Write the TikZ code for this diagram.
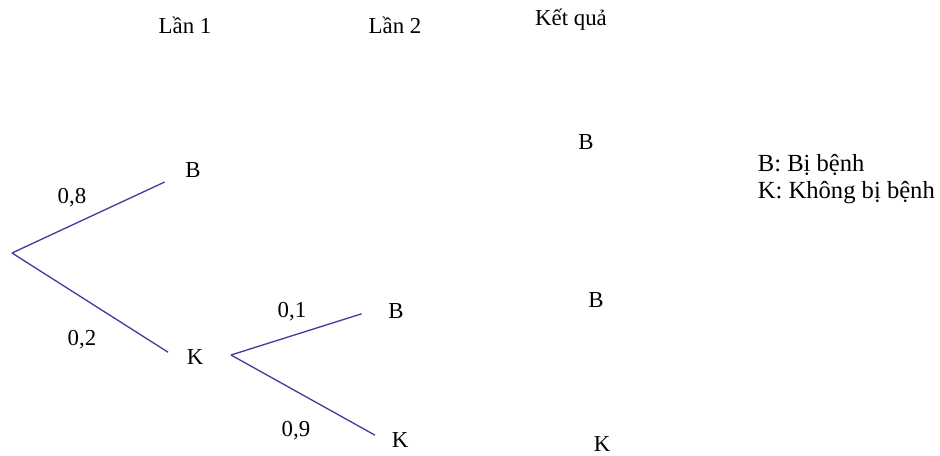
\documentclass[tikz,border=0pt]{standalone}
\usepackage{fontspec}
\setmainfont{Liberation Serif}
\usepackage{tikz}
\usetikzlibrary{positioning}
\definecolor{branchblue}{RGB}{62,62,160}

\begin{document}
\begin{tikzpicture}[x=0.02cm, y=-0.02cm, every node/.style={font=\fontsize{13}{15.5}\selectfont, inner sep=2pt},
    branch/.style={draw=branchblue, line width=0.75pt}]
    \useasboundingbox (0,0) rectangle (940,456);
    % Tiêu đề các cột
    \node (lan1) at (185,25) {Lần 1};
    \node (lan2) at (395,25) {Lần 2};
    \node (ketqua) at (571,20) {Kết quả};
    % Lần 1
    \coordinate (goc) at (12,253);
    \node (b1) at (193,170) {B};
    \node (k1) at (195,357) {K};
    \draw[branch, shorten >=10.6pt] (goc) -- (b1.200);
    \draw[branch, shorten >=10pt] (goc) -- (k1.201);
    \node (p08) at (72,198) {0,8};
    \node (p02) at (82,340) {0,2};
    % Lần 2
    \coordinate (goc2) at (231,355);
    \node (b2) at (396,311) {B};
    \node (k2) at (400,440) {K};
    \draw[branch, shorten >=13.7pt] (goc2) -- (b2.159);
    \draw[branch, shorten >=8.4pt] (goc2) -- (k2.191);
    \node (p01) at (292,312) {0,1};
    \node (p09) at (296,431) {0,9};
    % Kết quả
    \node (kq1) at (586,142) {B};
    \node (kq2) at (596,300) {B};
    \node (kq3) at (602,444) {K};
    % Chú thích
    \node[anchor=west, align=left, font=\fontsize{14}{15.5}\selectfont] (chuthich) at (754,179) {B: Bị bệnh\\K: Không bị bệnh};
\end{tikzpicture}
\end{document}
